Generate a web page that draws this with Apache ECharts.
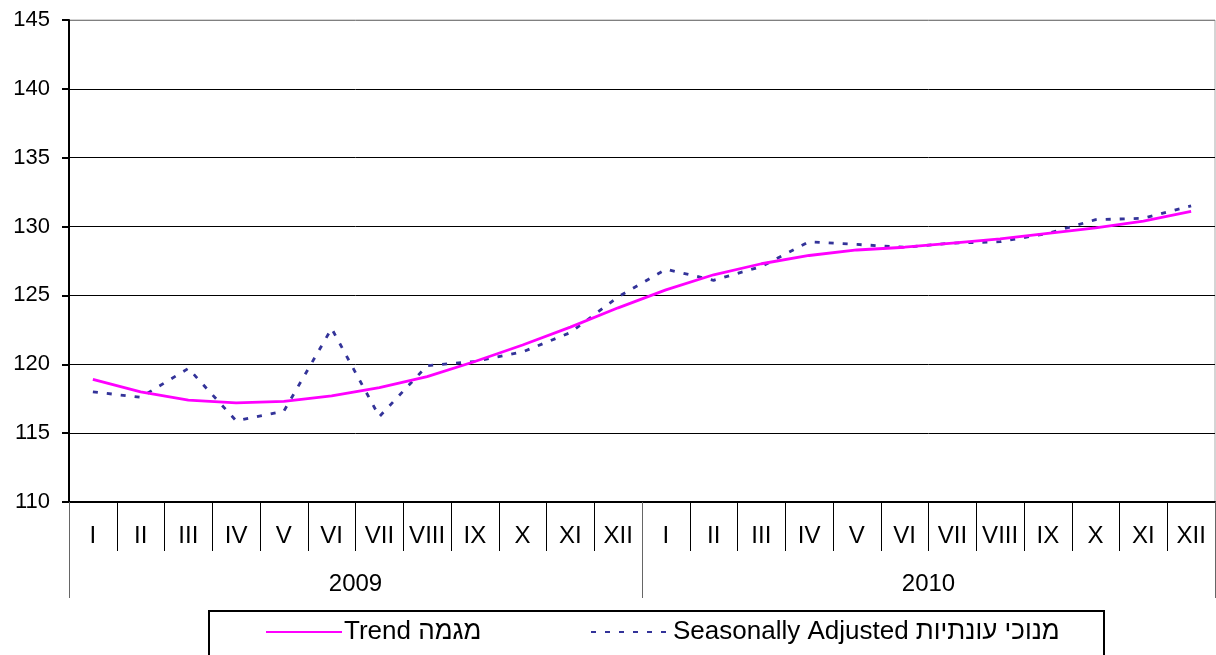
<!DOCTYPE html>
<html>
<head>
<meta charset="utf-8">
<script src="https://cdn.jsdelivr.net/npm/echarts@6/dist/echarts.min.js"></script>
<style>
html,body{margin:0;padding:0;background:#fff;}
#chart{width:1216px;height:655px;}
</style>
</head>
<body>
<div id="chart"></div>
<script>
const months = ['I','II','III','IV','V','VI','VII','VIII','IX','X','XI','XII',
                'I','II','III','IV','V','VI','VII','VIII','IX','X','XI','XII'];
const years = ['2009','2010'];
const trendName = 'Trend מגמה';
const saName = 'Seasonally Adjusted מנוכי עונתיות';
const trend = [118.9,118.0,117.4,117.2,117.3,117.7,118.3,119.1,120.2,121.4,122.7,124.1,
               125.4,126.5,127.3,127.9,128.3,128.5,128.8,129.1,129.5,129.9,130.4,131.1];
const seasAdj = [118.0,117.6,119.7,115.9,116.6,122.6,116.2,119.9,120.2,120.9,122.3,124.9,
                 126.9,126.1,127.1,128.9,128.7,128.5,128.8,128.9,129.5,130.5,130.6,131.5];

const FONT = 'Arial, "Liberation Sans", sans-serif';
const legendCommon = {
  orient:'horizontal', top:619, padding:0, itemHeight:14,
  itemStyle:{opacity:0, borderWidth:0},
  textStyle:{color:'#000', fontSize:26, fontFamily:FONT, padding:[0,0,0,-3]},
  selectedMode:false
};
const chart = echarts.init(document.getElementById('chart'), null, {renderer:'canvas'});
chart.setOption({
  animation:false,
  backgroundColor:'#fff',
  textStyle:{fontFamily:FONT},
  grid:{left:69, top:20, right:1, bottom:153, show:true, borderColor:'#aaa', borderWidth:1, containLabel:false},
  xAxis:[{
    type:'category', data:months, position:'bottom', boundaryGap:true,
    axisLine:{show:true, lineStyle:{color:'#000', width:2}},
    axisTick:{show:true, interval:0, length:49, lineStyle:{color:'#000', width:1}},
    axisLabel:{interval:0, color:'#000', fontSize:24, fontFamily:FONT, margin:22},
    splitLine:{show:false}
  },{
    type:'category', data:years, position:'bottom', offset:0, boundaryGap:true,
    axisLine:{show:false},
    axisTick:{show:true, interval:0, length:96, lineStyle:{color:'#666', width:1}},
    axisLabel:{interval:0, color:'#000', fontSize:24, fontFamily:FONT, margin:70},
    splitLine:{show:false}
  }],
  yAxis:{
    type:'value', min:110, max:145, interval:5,
    axisLine:{show:true, lineStyle:{color:'#000', width:2}},
    axisTick:{show:true, inside:false, length:7, lineStyle:{color:'#000', width:2}},
    axisLabel:{color:'#000', fontSize:22, fontFamily:FONT, margin:19},
    splitLine:{show:true, lineStyle:{color:['#000','#000','#000','#000','#000','#000','#000','#808080'], width:1}}
  },
  legend:[
    Object.assign({}, legendCommon, {left:265, itemWidth:76, data:[trendName]}),
    Object.assign({}, legendCommon, {left:590, itemWidth:80, data:[saName]})
  ],
  graphic:[{
    type:'rect', silent:true,
    shape:{x:209, y:611, width:895, height:60},
    style:{fill:'none', stroke:'#000', lineWidth:2}
  }],
  series:[{
    name:trendName, type:'line', data:trend, symbol:'none', smooth:false,
    lineStyle:{color:'#FF00FF', width:2.8}, itemStyle:{color:'#FF00FF'}, z:3
  },{
    name:saName, type:'line', data:seasAdj, symbol:'none', smooth:false,
    lineStyle:{color:'#333399', width:2.8, type:[5,9]}, itemStyle:{color:'#333399'}, z:2
  }]
});
</script>
</body>
</html>
